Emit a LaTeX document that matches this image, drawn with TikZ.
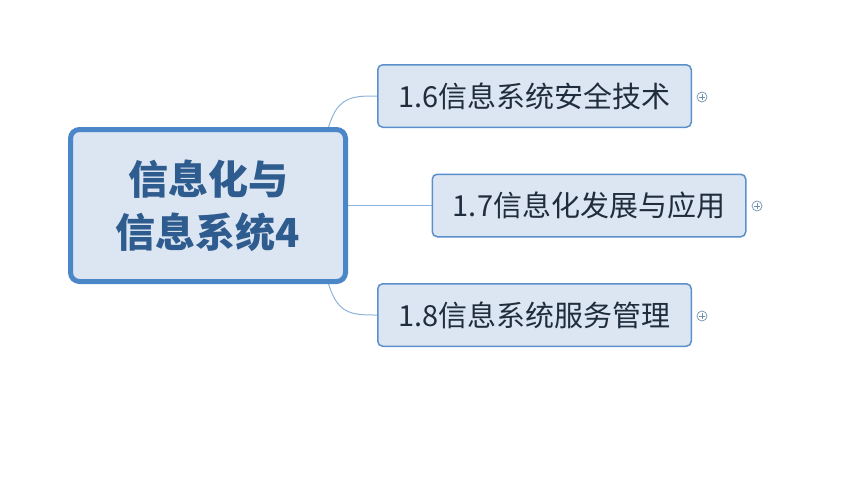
\documentclass[tikz,border=0pt]{standalone}
\usepackage{fontspec}
\newfontfamily\cjk{Noto Sans CJK SC}
\usetikzlibrary{calc,backgrounds}
\definecolor{boxfill}{HTML}{DCE6F2}
\definecolor{mainborder}{HTML}{4A86C8}
\definecolor{childborder}{HTML}{5B8FCB}
\definecolor{maintext}{HTML}{2E5C8E}
\definecolor{childtext}{HTML}{1F2D3D}
\definecolor{linkcol}{HTML}{8FB4DC}
\definecolor{expcol}{HTML}{6F8FB0}
\tikzset{
  mainbox/.style={draw=mainborder, line width=5pt, fill=boxfill, rounded corners=9pt,
    minimum width=275pt, minimum height=152pt, inner sep=0pt, align=center,
    text=maintext, font=\cjk\bfseries\fontsize{40}{53}\selectfont},
  childbox/.style={draw=childborder, line width=1.5pt, fill=boxfill, rounded corners=5pt,
    minimum width=313.5pt, minimum height=62.5pt, inner sep=0pt,
    text=childtext, font=\cjk\fontsize{29}{35}\selectfont},
  link/.style={draw=linkcol, line width=1pt},
  expander/.style={circle, draw=expcol, line width=0.7pt, fill=white, minimum size=10pt, inner sep=0pt},
  plusmark/.style={draw=expcol, line width=0.8pt}
}
\begin{document}
\begin{tikzpicture}[x=1pt,y=-1pt]
\useasboundingbox (0,0) rectangle (843,479);
\node[mainbox] (m) at (208,205.5) {信息化与\\信息系统4};
\node[childbox] (c1) at (534.5,96) {1.6信息系统安全技术};
\node[childbox] (c2) at (589,205.5) {1.7信息化发展与应用};
\node[childbox] (c3) at (534.5,315) {1.8信息系统服务管理};
\coordinate (rs) at (318,205.5);
\begin{scope}[on background layer]
\path[link] (rs) .. controls (325,96) and (340,96) .. (c1.west);
\path[link] (rs) .. controls (325,315) and (340,315) .. (c3.west);
\path[link] (m.center) -- (c2.west);
\end{scope}
\foreach \n/\x/\y in {e1/702/97, e2/757/206, e3/702/316}{
  \node[expander] (\n) at (\x,\y) {};
  \draw[plusmark] ($(\n.center)+(-2.8,0)$) -- ($(\n.center)+(2.8,0)$);
  \draw[plusmark] ($(\n.center)+(0,-2.8)$) -- ($(\n.center)+(0,2.8)$);
}
\end{tikzpicture}
\end{document}
